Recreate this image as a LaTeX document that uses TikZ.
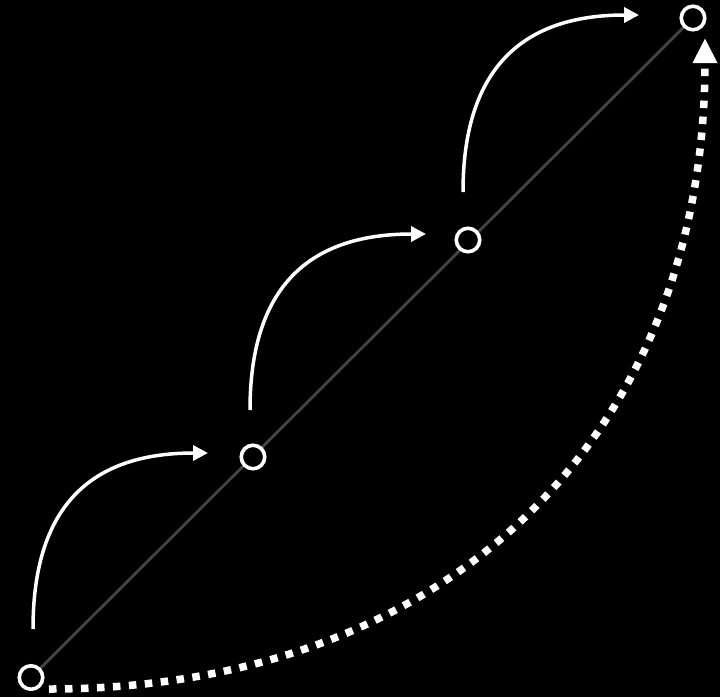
\documentclass[tikz,border=0pt]{standalone}
\usetikzlibrary{arrows.meta}
\definecolor{linegray}{HTML}{444444}
\begin{document}
\begin{tikzpicture}[x=1pt,y=-1pt,
  dot/.style={circle,draw=white,line width=3.6pt,fill=black,minimum size=23.5pt,inner sep=0pt},
  hop/.style={draw=white,line width=3.5pt,-{Triangle[length=15pt,width=15pt]}},
  leap/.style={draw=white,line width=7.5pt,dash pattern=on 7.5pt off 8.5pt,-{Triangle[length=25pt,width=23pt]}}]
\fill[black] (0,0) rectangle (720,697);
\useasboundingbox (0,0) rectangle (720,697);
\coordinate (p1) at (31,677.5);
\coordinate (p2) at (253,457);
\coordinate (p3) at (468,240);
\coordinate (p4) at (693,18);
\draw[linegray,line width=2.8pt] (p1) -- (p4);
\node[dot] (c1) at (p1) {};
\node[dot] (c2) at (p2) {};
\node[dot] (c3) at (p3) {};
\node[dot] (c4) at (p4) {};
% hop arrows
\coordinate (s1) at (33,629);  \coordinate (e1) at (208,453);
\coordinate (s2) at (250,410); \coordinate (e2) at (426,234);
\coordinate (s3) at (463,192); \coordinate (e3) at (639,15);
\draw[hop] (s1) .. controls ++(0,-120) and ++(-120,0) .. (e1);
\draw[hop] (s2) .. controls ++(0,-120) and ++(-120,0) .. (e2);
\draw[hop] (s3) .. controls ++(0,-120) and ++(-120,0) .. (e3);
% leap arrow
\coordinate (ls) at (49,689);
\coordinate (le) at (705,38);
\draw[leap] (ls) .. controls ++(400,0) and ++(0,397) .. (le);
\end{tikzpicture}
\end{document}
